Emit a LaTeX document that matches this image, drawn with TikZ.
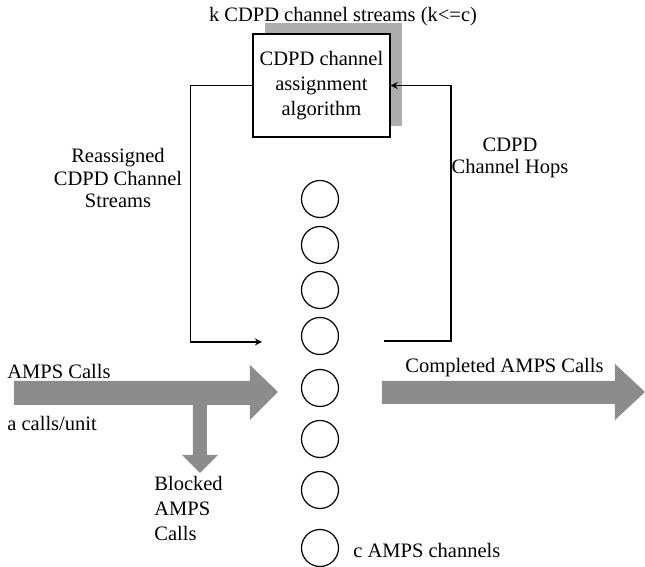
\documentclass[tikz,border=0pt]{standalone}
\usepackage{fontspec}
\setmainfont{Liberation Serif}
\usetikzlibrary{arrows, shadows}
\definecolor{flowgray}{gray}{0.55}
\definecolor{shadowgray}{gray}{0.68}
\tikzstyle{channel} = [circle, draw=black, line width=0.6pt, minimum size=18.5pt, inner sep=0pt]
\tikzstyle{algobox} = [rectangle, draw=black, line width=0.7pt, fill=white, minimum width=66.5pt, minimum height=51.5pt, align=center, font=\fontsize{10.25}{12.5}\selectfont, drop shadow={shadow xshift=6pt, shadow yshift=5.5pt, fill=shadowgray, opacity=1}]
\tikzstyle{txt} = [inner sep=0pt]
\tikzstyle{arrow} = [line width=0.6pt,->,>=stealth]
\tikzstyle{flow} = [fill=flowgray]

\begin{document}
\begin{tikzpicture}[x=0.5pt, y=-0.5pt, font=\fontsize{10.25}{11}\selectfont]
        \useasboundingbox (0,0) rectangle (645,567);
        % Nodes
        \node (algo) [algobox] at (321.5,85.5) {CDPD channel\\assignment\\algorithm};
        \foreach \y [count=\i] in {199,245,290,336,388,439,490,548}
            \node (c\i) [channel] at (320,\y) {};
        \node (streams) [txt] at (343,17) {k CDPD channel streams (k<=c)};
        \node (reassigned) [txt, align=center, font=\fontsize{10.25}{11.2}\selectfont] at (118,178) {Reassigned\\CDPD Channel\\Streams};
        \node (hops) [txt, align=center, font=\fontsize{10.25}{10.8}\selectfont] at (510,158) {CDPD\\Channel Hops};
        \node (amps) [txt, anchor=west] at (7,371) {AMPS Calls};
        \node (rate) [txt, anchor=west] at (7,423) {a calls/unit};
        \node (blocked) [txt, anchor=west, align=left, font=\fontsize{10.25}{12.5}\selectfont] at (154,508) {Blocked\\AMPS\\Calls};
        \node (done) [txt, anchor=west] at (405,368) {Completed AMPS Calls};
        \node (cnum) [txt, anchor=west] at (353,550) {c AMPS channels};
        \coordinate (reIn) at (262,342);
        \coordinate (hopOut) at (384,341);

        % Call flows
        \fill [flow] (14,381) -- (250,381) -- (250,365) -- (278,392) -- (250,420) -- (250,405)
            -- (207,405) -- (207,455) -- (218,455) -- (200,473) -- (182,455) -- (193,455)
            -- (193,405) -- (14,405) -- cycle;
        \fill [flow] (382,381) -- (615,381) -- (615,364) -- (645,392) -- (615,420) -- (615,404)
            -- (382,404) -- cycle;

        % Arrows
        \draw [arrow] (algo.west) -- ++(-62,0) |- (reIn);
        \draw [arrow] (hopOut) -- (451,341) |- (algo.east);
    \end{tikzpicture}
\end{document}
